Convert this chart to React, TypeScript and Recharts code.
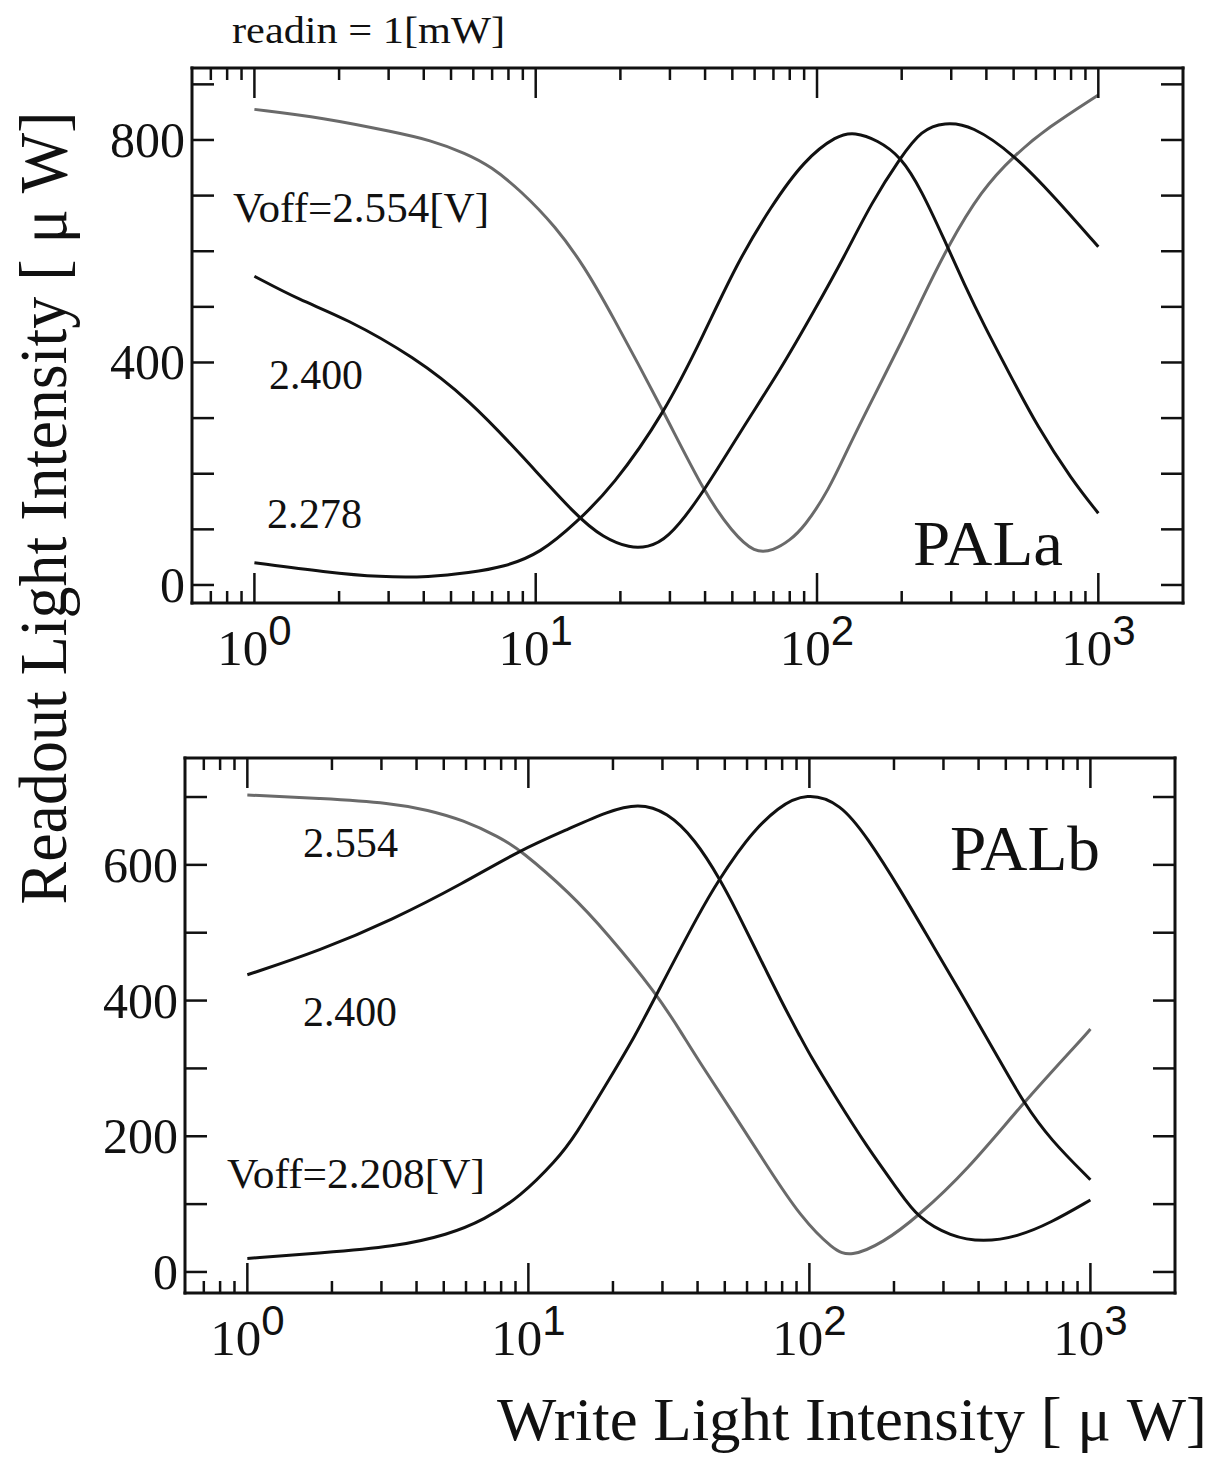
import { Line, LineChart, XAxis, YAxis } from "recharts";

// x axis: write light intensity [µW], log scale
const xDomain = [0.6, 2000];
const xTicks = [
  0.7, 0.8, 0.9, 1, 2, 3, 4, 5, 6, 7, 8, 9, 10, 20, 30, 40, 50, 60, 70, 80, 90,
  100, 200, 300, 400, 500, 600, 700, 800, 900, 1000,
];

// PALa, readin = 1 mW
const palaYTicks = [0, 100, 200, 300, 400, 500, 600, 700, 800, 900];
const palaYLabels = [0, 400, 800];

const palaX2554 = [1, 1.75, 3.15, 4.2, 5.65, 6.95, 8.8, 11.8, 14.9, 18.3, 28.7, 39.8, 50, 60, 70, 80, 90, 110, 130, 156, 204, 235, 291, 384, 504, 660, 1000];
const palaY2554 = [855, 840, 814, 800, 776, 752, 710, 644, 572, 494, 309, 165, 95, 57, 62, 80, 104, 170, 250, 330, 446, 512, 608, 710, 773, 822, 881];

const palaX2400 = [1, 1.45, 2.1, 3.7, 5.8, 9, 14, 17.4, 21.7, 25, 29.2, 38, 54, 74, 98, 125, 156, 199, 235, 284, 354, 504, 700, 1000];
const palaY2400 = [555, 512, 480, 410, 333, 231, 123, 85, 66, 68, 81, 153, 280, 386, 494, 590, 687, 770, 818, 832, 827, 773, 697, 608];

const palaX2278 = [1, 1.8, 2.8, 4.2, 5.8, 7.7, 10.4, 14, 18.7, 28.7, 39.5, 52, 68.5, 90, 118, 136, 164, 199, 235, 284, 334, 394, 476, 608, 805, 1000];
const palaY2278 = [40, 23, 14, 14, 22, 32, 57, 113, 176, 309, 450, 579, 680, 764, 809, 814, 800, 770, 710, 620, 540, 465, 386, 284, 189, 129];

// PALb
const palbYTicks = [0, 100, 200, 300, 400, 500, 600, 700];
const palbYLabels = [0, 200, 400, 600];

const palbX2554 = [1, 1.82, 3.28, 4.37, 5.87, 7.88, 9.37, 14.1, 19, 28.5, 35, 41, 53.6, 71, 93, 122, 140, 183, 242, 365, 578, 945, 1000];
const palbY2554 = [703, 698, 691, 681, 666, 641, 622, 558, 500, 411, 353, 307, 234, 155, 81, 32, 22, 43, 81, 150, 250, 346, 358];

const palbX2400 = [1, 1.82, 3.28, 5.87, 9.37, 14.1, 19, 24.6, 31.2, 39.3, 48.2, 55.4, 62, 81, 93, 101, 122, 161, 211, 242, 318, 416, 550, 720, 1000];
const palbY2400 = [438, 474, 519, 573, 622, 654, 678, 691, 678, 637, 578, 530, 489, 392, 346, 318, 262, 183, 116, 81, 52, 44, 52, 72, 106];

const palbX2208 = [1, 1.85, 3.34, 5.19, 6.97, 9.37, 12.6, 14.6, 19.6, 24, 28.5, 41, 48, 56, 62, 77, 98, 129, 161, 211, 276, 365, 478, 578, 720, 1000];
const palbY2208 = [20, 28, 37, 55, 77, 111, 165, 199, 287, 348, 408, 533, 580, 620, 645, 685, 707, 691, 640, 563, 480, 395, 310, 250, 195, 136];

const SERIF = '"Liberation Serif", "Times New Roman", serif';
const SANS = '"Liberation Sans", Arial, sans-serif';
const INK = "#111";
const GRAY = "#6a6a6a";

const zip = (xs: number[], ys: number[]) => xs.map((x, i) => ({ x, y: ys[i] }));

const isDecade = (v: number) => {
  const l = Math.log10(v);
  return Math.abs(l - Math.round(l)) < 1e-9;
};

function BottomTick(props: any) {
  const { x, y, payload } = props;
  const v = payload.value;
  const major = isDecade(v);
  return (
    <g>
      <line x1={x} y1={y} x2={x} y2={y - (major ? 30 : 12)} stroke={INK} strokeWidth={2.5} />
      {major && (
        <text x={x} y={y + 62} textAnchor="middle" fill={INK}>
          <tspan fontFamily={SERIF} fontSize={51}>10</tspan>
          <tspan fontFamily={SANS} fontSize={42} dy={-20}>
            {Math.round(Math.log10(v))}
          </tspan>
        </text>
      )}
    </g>
  );
}

function TopTick(props: any) {
  const { x, y, payload } = props;
  const major = isDecade(payload.value);
  return <line x1={x} y1={y} x2={x} y2={y + (major ? 30 : 12)} stroke={INK} strokeWidth={2.5} />;
}

const leftTick = (labels: number[]) => (props: any) => {
  const { x, y, payload } = props;
  const v = payload.value;
  return (
    <g>
      <line x1={x} y1={y} x2={x + 22} y2={y} stroke={INK} strokeWidth={2.5} />
      {labels.includes(v) && (
        <text x={x - 7} y={y + 17} textAnchor="end" fontFamily={SERIF} fontSize={50} fill={INK}>
          {v}
        </text>
      )}
    </g>
  );
};

function RightTick(props: any) {
  const { x, y } = props;
  return <line x1={x} y1={y} x2={x - 22} y2={y} stroke={INK} strokeWidth={2.5} />;
}

const frame = { stroke: INK, strokeWidth: 3, strokeLinecap: "square" as const };

interface Series {
  name: string;
  data: { x: number; y: number }[];
  color: string;
}

interface PanelProps {
  top: number;
  height: number;
  margin: { top: number; right: number; bottom: number; left: number };
  yDomain: number[];
  yTicks: number[];
  yLabels: number[];
  series: Series[];
}

// axes are 1px thick boxes so the frame sits on the plot edge
function Panel({ top, height, margin, yDomain, yTicks, yLabels, series }: PanelProps) {
  return (
    <div style={{ position: "absolute", left: 0, top, width: 1222, height }}>
      <LineChart width={1222} height={height} margin={margin}>
        <XAxis
          xAxisId="b"
          type="number"
          dataKey="x"
          scale="log"
          domain={xDomain}
          allowDataOverflow
          ticks={xTicks}
          interval={0}
          height={1}
          tickSize={0}
          tickMargin={0}
          tickLine={false}
          axisLine={frame}
          tick={BottomTick}
        />
        <XAxis
          xAxisId="t"
          orientation="top"
          type="number"
          dataKey="x"
          scale="log"
          domain={xDomain}
          allowDataOverflow
          ticks={xTicks}
          interval={0}
          height={1}
          tickSize={0}
          tickMargin={0}
          tickLine={false}
          axisLine={frame}
          tick={TopTick}
        />
        <YAxis
          yAxisId="l"
          type="number"
          domain={yDomain}
          allowDataOverflow
          ticks={yTicks}
          interval={0}
          width={1}
          tickSize={0}
          tickMargin={0}
          tickLine={false}
          axisLine={frame}
          tick={leftTick(yLabels)}
        />
        <YAxis
          yAxisId="r"
          orientation="right"
          type="number"
          domain={yDomain}
          allowDataOverflow
          ticks={yTicks}
          interval={0}
          width={1}
          tickSize={0}
          tickMargin={0}
          tickLine={false}
          axisLine={frame}
          tick={RightTick}
        />
        {series.map((s) => (
          <Line
            key={s.name}
            xAxisId="b"
            yAxisId="l"
            data={s.data}
            dataKey="y"
            type="basis"
            stroke={s.color}
            strokeWidth={3}
            dot={false}
            activeDot={false}
            isAnimationActive={false}
          />
        ))}
      </LineChart>
    </div>
  );
}

export default function App() {
  const pala: Series[] = [
    { name: "2.554", data: zip(palaX2554, palaY2554), color: GRAY },
    { name: "2.400", data: zip(palaX2400, palaY2400), color: INK },
    { name: "2.278", data: zip(palaX2278, palaY2278), color: INK },
  ];
  const palb: Series[] = [
    { name: "2.554", data: zip(palbX2554, palbY2554), color: GRAY },
    { name: "2.400", data: zip(palbX2400, palbY2400), color: INK },
    { name: "2.208", data: zip(palbX2208, palbY2208), color: INK },
  ];

  return (
    <div style={{ position: "absolute", left: 0, top: 0, width: 1222, height: 1466, background: "#fff" }}>
      <Panel
        top={0}
        height={700}
        margin={{ top: 67, right: 38, bottom: 96, left: 191 }}
        yDomain={[-32.4, 929.4]}
        yTicks={palaYTicks}
        yLabels={palaYLabels}
        series={pala}
      />
      <Panel
        top={700}
        height={766}
        margin={{ top: 57, right: 46, bottom: 172, left: 184 }}
        yDomain={[-31, 757.5]}
        yTicks={palbYTicks}
        yLabels={palbYLabels}
        series={palb}
      />
      <svg
        width={1222}
        height={1466}
        style={{ position: "absolute", left: 0, top: 0, pointerEvents: "none" }}
        fontFamily={SERIF}
        fill={INK}
      >
        <text x={232} y={43} fontSize={38} textLength={273} lengthAdjust="spacingAndGlyphs">
          readin = 1[mW]
        </text>
        <text x={233} y={222} fontSize={42} textLength={256} lengthAdjust="spacingAndGlyphs">
          Voff=2.554[V]
        </text>
        <text x={269} y={389} fontSize={42} textLength={94} lengthAdjust="spacingAndGlyphs">
          2.400
        </text>
        <text x={267} y={528} fontSize={42} textLength={95} lengthAdjust="spacingAndGlyphs">
          2.278
        </text>
        <text x={913} y={565} fontSize={64} textLength={150} lengthAdjust="spacingAndGlyphs">
          PALa
        </text>
        <text x={303} y={857} fontSize={42} textLength={95} lengthAdjust="spacingAndGlyphs">
          2.554
        </text>
        <text x={303} y={1026} fontSize={42} textLength={94} lengthAdjust="spacingAndGlyphs">
          2.400
        </text>
        <text x={227} y={1188} fontSize={42} textLength={258} lengthAdjust="spacingAndGlyphs">
          Voff=2.208[V]
        </text>
        <text x={950} y={870} fontSize={64} textLength={150} lengthAdjust="spacingAndGlyphs">
          PALb
        </text>
        <text
          transform="translate(66 508) rotate(-90)"
          textAnchor="middle"
          fontSize={68}
          textLength={793}
          lengthAdjust="spacingAndGlyphs"
        >
          Readout Light Intensity [ μ W]
        </text>
        <text x={497} y={1440} fontSize={62} textLength={710} lengthAdjust="spacingAndGlyphs">
          Write Light Intensity [ μ W]
        </text>
      </svg>
    </div>
  );
}
